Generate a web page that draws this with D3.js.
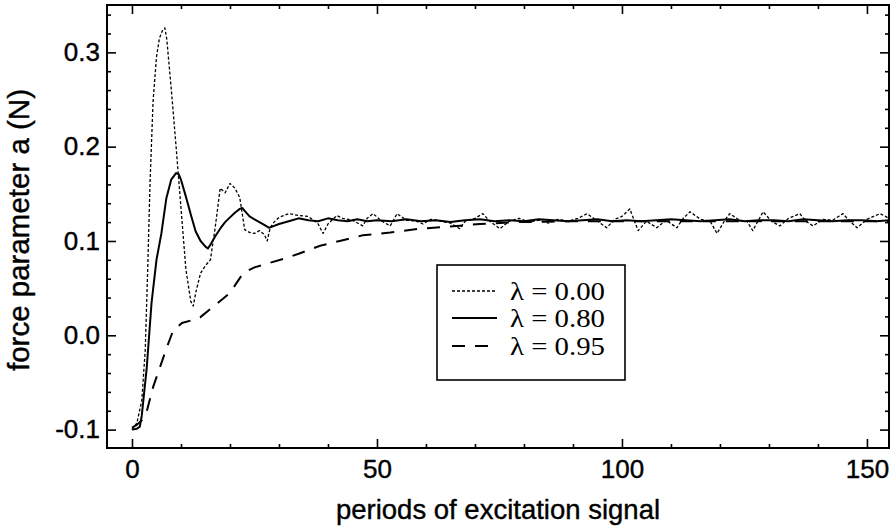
<!DOCTYPE html>
<html>
<head>
<meta charset="utf-8">
<script src="https://cdn.jsdelivr.net/npm/d3@7"></script>
<style>
  html, body { margin: 0; padding: 0; background: #fff; }
  svg { display: block; }
</style>
</head>
<body>
<svg id="chart" width="893" height="527"></svg>
<script>
// ---------- data ----------
const xTickValues = [0, 50, 100, 150];
const yTickValues = [-0.1, 0.0, 0.1, 0.2, 0.3];
const yTickLabels = ["-0.1", "0.0", "0.1", "0.2", "0.3"];
const legendLabels = ["λ = 0.00", "λ = 0.80", "λ = 0.95"];

// λ = 0.00 (dotted)
const periods000 = [0, 1, 2, 2.7, 3.2, 3.7, 4.3, 5, 5.6, 6.2, 6.7, 7.1, 8, 9, 10, 11, 12, 12.5, 13, 14, 15, 16, 17, 18, 19, 20, 21, 22, 23, 24, 25, 26, 27, 27.6, 28.2, 29, 30, 32, 34,
  36, 38, 39, 40, 41.8, 43, 45, 47.1, 48, 49.2, 51, 52.7, 54.1, 56, 58, 59.4, 61, 63, 65, 66.9, 68, 70, 71.6, 73, 75.1, 77, 79, 81, 83, 85, 87, 89, 91, 92.9, 95, 96.9, 98.5, 100, 101.6, 103.3, 105, 107.1, 109, 111.2, 112.5, 113.9, 116, 118, 119.4, 121, 122, 124, 125.5, 126.7, 128.8, 130.5, 132.2, 134, 136.3, 137.5, 139, 141, 143, 145.1, 146.5, 148, 150, 152.7, 154.5];
const values000 = [-0.100, -0.093, -0.069, -0.016, 0.069, 0.164, 0.248, 0.295, 0.315, 0.323, 0.326, 0.314, 0.262, 0.200, 0.135, 0.070, 0.036, 0.031, 0.045, 0.066, 0.074, 0.080, 0.115, 0.156, 0.151, 0.161, 0.156, 0.146, 0.112, 0.109, 0.108, 0.111, 0.107, 0.100, 0.114, 0.120, 0.125, 0.129, 0.127,
  0.126, 0.118, 0.108, 0.118, 0.127, 0.124, 0.122, 0.116, 0.124, 0.129, 0.121, 0.116, 0.129, 0.122, 0.121, 0.118, 0.123, 0.121, 0.119, 0.113, 0.121, 0.124, 0.129, 0.121, 0.113, 0.121, 0.124, 0.120, 0.122, 0.119, 0.123, 0.121, 0.124, 0.129, 0.121, 0.114, 0.123, 0.126, 0.134, 0.111, 0.121, 0.114, 0.122, 0.114, 0.124, 0.131, 0.123, 0.121, 0.108, 0.122, 0.129, 0.122, 0.121, 0.111, 0.131, 0.121, 0.116, 0.124, 0.129, 0.121, 0.116, 0.123, 0.122, 0.129, 0.121, 0.114, 0.123, 0.129, 0.124];

// λ = 0.80 (solid)
const periods080 = [0, 1, 1.6, 2, 3, 4, 5, 6, 7, 8, 9, 9.5, 10, 11, 12, 13, 14, 15, 15.5, 16, 17, 18, 19, 20, 21, 22, 22.5, 23, 24, 25, 26, 27, 28, 29, 30, 32, 34,
  36, 38, 40, 42, 44, 46, 48, 50, 53, 56, 59, 62, 65, 68, 71, 74, 77, 80, 83, 86, 89, 92, 95, 98, 101, 104, 107, 110, 113, 116, 119, 122, 125, 128, 131, 134, 137, 140, 143, 146, 149, 152, 154.5];
const values080 = [-0.100, -0.099, -0.097, -0.085, -0.035, 0.035, 0.080, 0.108, 0.145, 0.165, 0.172, 0.171, 0.165, 0.147, 0.128, 0.110, 0.100, 0.094, 0.092, 0.096, 0.105, 0.113, 0.120, 0.125, 0.130, 0.134, 0.135, 0.132, 0.126, 0.123, 0.120, 0.117, 0.114, 0.116, 0.118, 0.121, 0.124,
  0.122, 0.121, 0.124, 0.122, 0.121, 0.123, 0.121, 0.122, 0.121, 0.123, 0.121, 0.122, 0.120, 0.122, 0.123, 0.121, 0.122, 0.121, 0.123, 0.122, 0.121, 0.122, 0.123, 0.121, 0.122, 0.121, 0.122, 0.123, 0.122, 0.121, 0.122, 0.123, 0.121, 0.122, 0.122, 0.121, 0.123, 0.122, 0.121, 0.122, 0.122, 0.121, 0.122];

// λ = 0.95 (dashed)
const periods095 = [0, 1, 2, 3.1, 4.3, 5.7, 7.1, 8.4, 10.2, 12.2, 13.9, 16.5, 20, 22.7, 25, 27.6, 31.6, 34.3, 38.4, 42.4, 47.1, 52.7, 58.8, 64.3, 71, 79, 90, 100, 120, 140, 154.5];
const values095 = [-0.098, -0.095, -0.090, -0.079, -0.055, -0.034, -0.013, 0.005, 0.013, 0.016, 0.019, 0.030, 0.045, 0.066, 0.072, 0.076, 0.082, 0.087, 0.095, 0.100, 0.106, 0.109, 0.113, 0.115, 0.118, 0.120, 0.121, 0.121, 0.121, 0.121, 0.121];

// ---------- layout ----------
const svg = d3.select("#chart");
const plotLeft = 107, plotRight = 889, plotTop = 5, plotBottom = 448;

const x = d3.scaleLinear().domain([-5.1, 154.5]).range([plotLeft, plotRight]);
const y = d3.scaleLinear().domain([-0.1195, 0.3502]).range([plotBottom, plotTop]);

const sansFont = '"Liberation Sans", Arial, Helvetica, sans-serif';
const serifFont = '"Liberation Serif", "Times New Roman", serif';

const xMinor = d3.range(0, 155, 10).filter(v => v % 50 !== 0);
const yMinor = d3.range(-0.1, 0.35, 0.02).filter(v => Math.abs(Math.round(v * 10) - v * 10) > 1e-6);

function styleAxis(g) {
  g.select(".domain").remove();
  g.selectAll(".tick line").attr("stroke", "#000").attr("stroke-width", 1.6);
}
function styleLabels(g) {
  g.selectAll("text").attr("font-size", 26).attr("font-family", sansFont)
    .attr("fill", "#000").attr("stroke", "#000").attr("stroke-width", 0.4);
}

// major / minor ticks, all sides, pointing inward
svg.append("g").attr("transform", `translate(0,${plotBottom})`)
  .call(d3.axisBottom(x).tickValues(xTickValues).tickSize(-9).tickPadding(12).tickFormat(d3.format("d")))
  .call(styleAxis).call(styleLabels);
svg.append("g").attr("transform", `translate(0,${plotBottom})`)
  .call(d3.axisBottom(x).tickValues(xMinor).tickSize(-4).tickFormat(""))
  .call(styleAxis);
svg.append("g").attr("transform", `translate(0,${plotTop})`)
  .call(d3.axisTop(x).tickValues(xTickValues).tickSize(-9).tickFormat(""))
  .call(styleAxis);
svg.append("g").attr("transform", `translate(0,${plotTop})`)
  .call(d3.axisTop(x).tickValues(xMinor).tickSize(-4).tickFormat(""))
  .call(styleAxis);

svg.append("g").attr("transform", `translate(${plotLeft},0)`)
  .call(d3.axisLeft(y).tickValues(yTickValues).tickSize(-9).tickPadding(7).tickFormat((d, i) => yTickLabels[i]))
  .call(styleAxis).call(styleLabels);
svg.append("g").attr("transform", `translate(${plotLeft},0)`)
  .call(d3.axisLeft(y).tickValues(yMinor).tickSize(-4).tickFormat(""))
  .call(styleAxis);
svg.append("g").attr("transform", `translate(${plotRight},0)`)
  .call(d3.axisRight(y).tickValues(yTickValues).tickSize(-9).tickFormat(""))
  .call(styleAxis);
svg.append("g").attr("transform", `translate(${plotRight},0)`)
  .call(d3.axisRight(y).tickValues(yMinor).tickSize(-4).tickFormat(""))
  .call(styleAxis);

// frame
svg.append("rect")
  .attr("x", plotLeft).attr("y", plotTop)
  .attr("width", plotRight - plotLeft).attr("height", plotBottom - plotTop)
  .attr("fill", "none").attr("stroke", "#000").attr("stroke-width", 2);

// series
const line = d3.line().x(d => x(d[0])).y(d => y(d[1]));
const series = [
  { px: periods000, vals: values000, width: 1.3, dash: "3,2" },
  { px: periods080, vals: values080, width: 2, dash: null },
  { px: periods095, vals: values095, width: 2, dash: "13,10" }
];
series.forEach(s => {
  const pts = s.px.map((p, i) => [p, s.vals[i]]);
  svg.append("path")
    .datum(pts)
    .attr("d", line)
    .attr("fill", "none")
    .attr("stroke", "#000")
    .attr("stroke-width", s.width)
    .attr("stroke-linejoin", "round")
    .attr("stroke-dasharray", s.dash);
});

// legend
const lg = svg.append("g");
lg.append("rect").attr("x", 437).attr("y", 265).attr("width", 188).attr("height", 115)
  .attr("fill", "#fff").attr("stroke", "#000").attr("stroke-width", 1.6);
const legendRowY = [291, 318, 346];
series.forEach((s, i) => {
  lg.append("line").attr("x1", 452).attr("x2", 497)
    .attr("y1", legendRowY[i]).attr("y2", legendRowY[i])
    .attr("stroke", "#000").attr("stroke-width", s.width).attr("stroke-dasharray", s.dash);
  lg.append("text").attr("x", 510).attr("y", legendRowY[i] + 9)
    .attr("font-family", serifFont).attr("font-size", 26).attr("fill", "#000")
    .attr("textLength", 95).attr("lengthAdjust", "spacingAndGlyphs")
    .text(legendLabels[i]);
});

// axis titles
svg.append("text")
  .attr("x", (plotLeft + plotRight) / 2).attr("y", 519)
  .attr("text-anchor", "middle")
  .attr("font-family", sansFont).attr("font-size", 27.5).attr("fill", "#000")
  .attr("stroke", "#000").attr("stroke-width", 0.4)
  .text("periods of excitation signal");
svg.append("text")
  .attr("transform", `translate(29,${(85 + 375) / 2}) rotate(-90)`)
  .attr("text-anchor", "middle")
  .attr("font-family", sansFont).attr("font-size", 29.5).attr("fill", "#000")
  .attr("stroke", "#000").attr("stroke-width", 0.4)
  .text("force parameter a (N)");
</script>
</body>
</html>
